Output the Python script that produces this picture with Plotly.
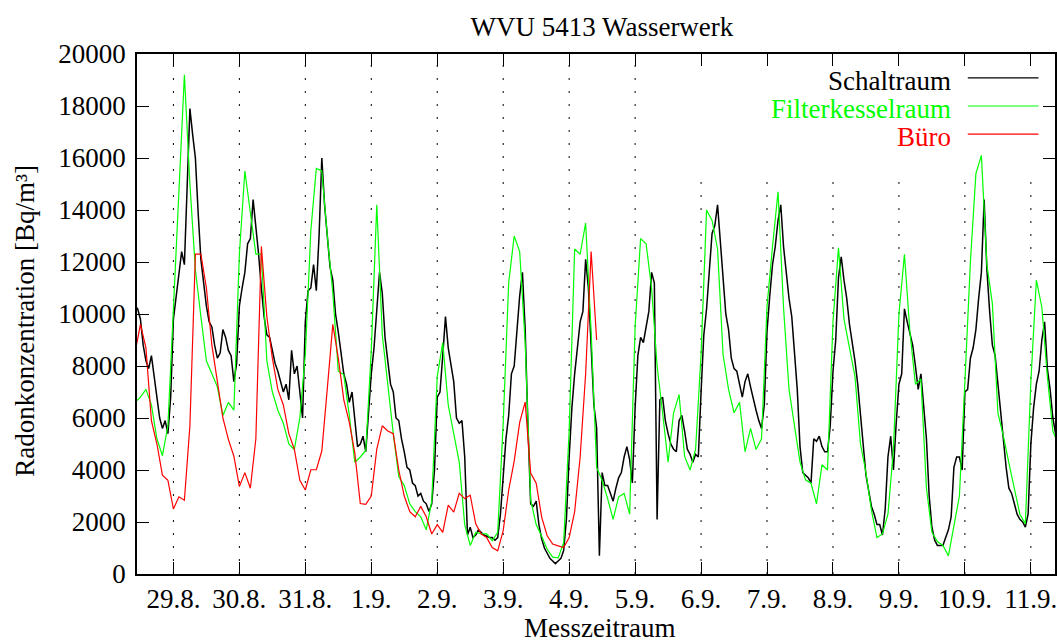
import plotly.graph_objects as go

# x axis in days, 0 = 29.8. 00:00
day_labels = ["29.8.", "30.8.", "31.8.", "1.9.", "2.9.", "3.9.", "4.9.",
              "5.9.", "6.9.", "7.9.", "8.9.", "9.9.", "10.9.", "11.9."]
start = -14 / 24  # 28.8. 10:00

# Schaltraum, hourly values [Bq/m3]
schaltraum = (
    [10300, 10200, 9800, 8800, 8200, 7900, 8400, 7600, 6700, 6000, 5600, 5900, 5400, 6800]
    + [9800, 10700, 11500, 12400, 11900, 15000, 17900, 16900, 16000, 13900, 12100, 11200,
       10300, 9700, 9500, 8800, 8300, 8500, 9400, 9100, 8600, 8400, 7400, 8100]
    + [10300, 11000, 11600, 12700, 12900, 14400, 13400, 12300, 11000, 9900, 9200, 9100,
       8600, 8100, 7800, 7400, 7000, 7300, 6700, 8600, 7700, 8000, 7100, 6000]
    + [9700, 10900, 11000, 11900, 10900, 13000, 16000, 14200, 13000, 11800, 11300, 10000,
       9300, 8400, 7700, 7300, 6600, 7000, 5900, 4900, 5000, 5300, 4700, 6100]
    + [7700, 8700, 10200, 11600, 10800, 9100, 8200, 7300, 7000, 6000, 5900, 5200,
       4700, 4100, 4000, 3500, 3400, 3000, 3100, 2800, 2700, 2400, 2700, 4000]
    + [6800, 7000, 8400, 9900, 8700, 8000, 7400, 6000, 5800, 5900, 4500, 1500,
       1800, 1400, 1500, 1700, 1600, 1500, 1450, 1400, 1400, 1300, 1400, 2300]
    + [3750, 5200, 6100, 7700, 8000, 9500, 10700, 11600, 9400, 5700, 2700, 2600,
       2800, 1900, 1350, 1000, 800, 600, 500, 400, 500, 600, 900, 2100]
    + [4500, 6400, 7700, 8600, 9700, 10100, 12100, 11000, 8400, 6500, 5600, 700,
       3900, 3400, 3400, 3100, 2800, 3300, 3700, 3900, 4500, 4900, 4400, 3500]
    + [6400, 8400, 9100, 8900, 9500, 10100, 11600, 11200, 2100, 6700, 6800, 5900,
       5400, 5000, 4800, 4700, 5900, 6100, 5500, 4800, 4600, 4300, 4600, 4500]
    + [7000, 9200, 10200, 11700, 13100, 13400, 14200, 12800, 11300, 10000, 9400, 8300,
       7900, 7800, 7300, 6800, 7400, 7700, 7200, 6700, 6300, 5900, 5600, 6500]
    + [9350, 10700, 11900, 12600, 13600, 14200, 12600, 11600, 10600, 9900, 8400, 7100,
       4900, 3900, 3800, 3700, 3500, 5200, 5100, 5300, 4900, 4700, 4700, 5700]
    + [7800, 9000, 11400, 12200, 11300, 10600, 9600, 8900, 8200, 7300, 6100, 4800,
       3800, 3200, 2600, 2300, 1900, 1900, 1500, 2500, 4500, 5300, 4000, 5800]
    + [7300, 7700, 10200, 9700, 9200, 8800, 8000, 7100, 7700, 6600, 5200, 3000,
       1800, 1300, 1100, 1100, 1100, 1400, 1700, 2200, 4100, 4500, 4500, 4000]
    + [7000, 7100, 8300, 8700, 9400, 10600, 11600, 14400, 11700, 10100, 8800, 8400,
       7300, 6400, 5100, 4100, 3300, 3100, 2700, 2300, 2100, 2000, 1800, 2300]
    + [5000, 6400, 7300, 7800, 9000, 9700, 7900, 7100, 6000, 5400]
)

# Filterkesselraum, 2-hourly values
filterkessel = (
    [6600, 6800, 7100, 6500, 5200, 4550, 5700]
    + [10200, 15300, 19200, 15000, 11700, 9900, 8200, 7700, 7200, 6100, 6600, 6300]
    + [12300, 15500, 14000, 12300, 12300, 8200, 7000, 6300, 5800, 5000, 4790, 6000]
    + [8440, 13200, 15600, 15500, 13000, 10800, 7800, 7660, 6100, 4300, 4500, 4750]
    + [8600, 14200, 9200, 7270, 5400, 3750, 3400, 2700, 2400, 2200, 1700, 2800]
    + [7600, 8900, 6500, 5400, 4300, 1900, 1100, 1600, 1550, 1540, 1280, 1600]
    + [5800, 11200, 13000, 12400, 8900, 2840, 1900, 1450, 950, 650, 620, 1200]
    + [5500, 12500, 12300, 13500, 9300, 4100, 3600, 2900, 2100, 2970, 3100, 2300]
    + [9500, 12900, 12700, 11000, 8000, 6200, 4300, 6200, 6900, 4530, 4000, 4790]
    + [8440, 14000, 13600, 12500, 8440, 7100, 6200, 6600, 4700, 5600, 4790, 5200]
    + [10300, 12600, 14700, 10260, 7100, 5700, 4300, 3620, 3490, 2700, 4200, 4000]
    + [9700, 12550, 9800, 8700, 7600, 5000, 3900, 2450, 1400, 1540, 2300, 4790]
    + [10000, 12300, 9300, 7300, 7500, 3300, 1600, 1250, 1100, 700, 1800, 3000]
    + [7400, 12000, 15400, 16100, 11900, 10400, 6200, 5300, 4270, 3300, 2300, 1930]
    + [7400, 11300, 10260, 7600, 5500, 5000]
)

# Buero, 2-hourly values (Messung endet am 4.9.)
buero = (
    [8500, 9600, 8700, 5900, 5000, 3800, 3600]
    + [2500, 2970, 2840, 5700, 12300, 12300, 11000, 8800, 7400, 6000, 5180, 4530]
    + [3360, 3900, 3300, 5200, 12600, 9900, 8300, 7100, 6500, 5400, 4800, 3600]
    + [3230, 4010, 4010, 4730, 7140, 9600, 8300, 6700, 5830, 4660, 2710, 2680]
    + [3000, 4800, 5700, 5500, 5400, 4000, 3000, 2400, 2200, 2600, 2200, 1540]
    + [1900, 1600, 2650, 2380, 3100, 2900, 3030, 1930, 1540, 1400, 1020, 890]
    + [1670, 3230, 4340, 5830, 6610, 3880, 3490, 2190, 1470, 1150, 1080, 1020]
    + [1400, 2400, 4500, 7700, 12400, 9000]
)

series = [
    ("Schaltraum", schaltraum, 1 / 24, "#000000", 1.5),
    ("Filterkesselraum", filterkessel, 1 / 12, "#00ff00", 1.2),
    ("Büro", buero, 1 / 12, "#ff0000", 1.2),
]

font = "Liberation Serif, Times New Roman, serif"
fsize = 27

fig = go.Figure()
for name, vals, step, color, lw in series:
    fig.add_trace(go.Scatter(
        x=[start + i * step for i in range(len(vals))], y=vals,
        mode="lines", name=name, showlegend=False,
        line=dict(color=color, width=lw),
    ))

# dotted day grid; upper right part is hidden behind the key
days = list(range(len(day_labels)))
for d in days:
    fig.add_shape(type="line", xref="x", yref="y", x0=d, x1=d, y0=0,
                  y1=20000 if d < 8 else 15200, layer="below",
                  line=dict(color="black", width=1, dash="2px,11px"))

# gnuplot style key: label right aligned, sample line to the right
key_rows = [0.954, 0.900, 0.846]
for (name, vals, step, color, lw), ky in zip(series, key_rows):
    fig.add_shape(type="line", xref="paper", yref="paper", x0=0.905, x1=0.982,
                  y0=ky, y1=ky, line=dict(color=color, width=1.2))
    fig.add_annotation(text=name, xref="paper", yref="paper", x=0.889, y=ky - 0.005,
                       xanchor="right", yanchor="middle", showarrow=False,
                       font=dict(family=font, size=fsize, color=color))

fig.add_annotation(text="Messzeitraum", xref="paper", yref="paper", x=0.504, y=-0.104,
                   xanchor="center", yanchor="middle", showarrow=False,
                   font=dict(family=font, size=fsize, color="black"))
fig.add_annotation(text="Radonkonzentration [Bq/m³]", xref="paper", yref="paper",
                   x=-0.122, y=0.487, textangle=-90, xanchor="center", yanchor="middle",
                   showarrow=False, font=dict(family=font, size=fsize, color="black"))

fig.update_layout(
    width=1057, height=644,
    margin=dict(l=137, r=0, t=54, b=70),
    paper_bgcolor="white", plot_bgcolor="white",
    title=dict(text="WVU 5413 Wasserwerk", x=0.5695, xanchor="center",
               y=0.958, yanchor="middle", font=dict(family=font, size=fsize, color="black")),
    font=dict(family=font, size=fsize, color="black"),
)
fig.update_xaxes(
    range=[-0.552, 13.366], tickvals=days, ticktext=day_labels,
    ticks="inside", ticklen=12, tickwidth=1, tickcolor="black",
    showline=True, linecolor="black", linewidth=1.5, mirror="allticks",
    showgrid=False, zeroline=False, ticklabelstandoff=0, ticklabeloverflow="allow",
)
fig.update_yaxes(
    range=[0, 20000], tickvals=list(range(0, 20001, 2000)), tickformat="d",
    ticks="inside", ticklen=12, tickwidth=1, tickcolor="black",
    showline=True, linecolor="black", linewidth=1.5, mirror="allticks",
    showgrid=False, zeroline=False, ticklabelstandoff=4,
)

fig.write_html("out.html", config={"displayModeBar": False},
               post_script="document.body.style.margin = '0';")
